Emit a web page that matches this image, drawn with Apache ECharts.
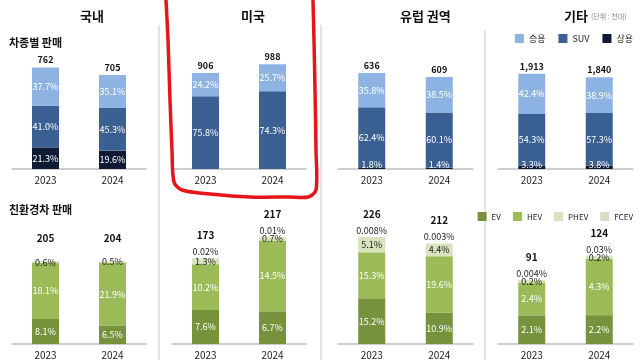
<!DOCTYPE html>
<html><head><meta charset="utf-8">
<script src="https://cdn.jsdelivr.net/npm/echarts@6/dist/echarts.min.js"></script>
<style>html,body{margin:0;padding:0;background:#fff}#c{width:640px;height:360px}</style>
</head><body><div id="c"></div>
<script>
// ---- data ----
const regions = ['국내', '미국', '유럽 권역', '기타'];
const years = ['2023', '2024'];
const salesTotal = [[762, 705], [906, 988], [636, 609], [1913, 1840]];
const passengerPct = [[37.7, 35.1], [24.2, 25.7], [35.8, 38.5], [42.4, 38.9]];
const suvPct = [[41.0, 45.3], [75.8, 74.3], [62.4, 60.1], [54.3, 57.3]];
const commercialPct = [[21.3, 19.6], [null, null], [1.8, 1.4], [3.3, 3.8]];
const ecoTotal = [[205, 204], [173, 217], [226, 212], [91, 124]];
const evPct = [[8.1, 6.5], [7.6, 6.7], [15.2, 10.9], [2.1, 2.2]];
const hevPct = [[18.1, 21.9], [10.2, 14.5], [15.3, 19.6], [2.4, 4.3]];
const phevPct = [[0.6, 0.5], [1.3, 0.7], [5.1, 4.4], [0.2, 0.2]];
const fcevPct = [[null, null], [0.02, 0.01], [0.008, 0.003], [0.004, 0.03]];
const topMax = [968, 1217, 854, 2590];
const botMax = [318, 261, 273, 181];

// ---- chart ----
const FONT = '"Noto Sans CJK KR", "Noto Sans", sans-serif';
const C = {pas: '#8DB3E2', suv: '#3A5F93', com: '#0F1B35', ev: '#76923C', hev: '#9BBB59', phev: '#D7E4BD', fcev: '#DDD9C4'};
const lefts = [12, 172, 338, 498];
const widths = [134, 134, 135, 135];
const fmtPct = v => v == null ? '' : (v >= 0.1 ? v.toFixed(1) : String(v)) + '%';
const fmtNum = v => v.toLocaleString('en-US');

const grid = [], xAxis = [], yAxis = [], series = [];
for (let row = 0; row < 2; row++) {
  for (let r = 0; r < 4; r++) {
    const gi = row * 4 + r;
    grid.push({left: lefts[r], width: widths[r], top: row === 0 ? 40 : 215, height: 129});
    xAxis.push({type: 'category', gridIndex: gi, data: years,
      axisLine: {lineStyle: {color: '#bfbfbf', width: 1.5}}, axisTick: {show: false},
      axisLabel: {color: '#222', fontSize: 10, fontFamily: FONT, margin: 6}});
    yAxis.push({type: 'value', gridIndex: gi, min: 0, max: row === 0 ? topMax[r] : botMax[r], show: false});
  }
}
function seg(name, gi, color, vals, pcts, labelColor, extraLabel) {
  return {name, type: 'bar', stack: 's' + gi, xAxisIndex: gi, yAxisIndex: gi, barWidth: 27,
    itemStyle: {color}, data: vals,
    label: Object.assign({show: true, position: 'inside', color: labelColor, fontSize: 9, fontFamily: FONT,
      formatter: p => fmtPct(pcts[p.dataIndex])}, extraLabel || {})};
}
for (let r = 0; r < 4; r++) {
  const tot = salesTotal[r];
  // top row
  const comVals = commercialPct[r].map((p, i) => p == null ? null : p * tot[i] / 100);
  const comSeries = seg('상용', r, C.com, comVals, commercialPct[r], '#fff');
  comSeries.data = comVals.map((v, i) => v == null ? null : (commercialPct[r][i] < 5 ?
    {value: v, label: {position: 'insideBottom', distance: 0}} : v));
  series.push(comSeries);
  series.push(seg('SUV', r, C.suv, suvPct[r].map((p, i) => p * tot[i] / 100), suvPct[r], '#fff'));
  series.push(seg('승용', r, C.pas, passengerPct[r].map((p, i) => p * tot[i] / 100), passengerPct[r], '#fff'));
  series.push({name: 'total', type: 'bar', stack: 's' + r, xAxisIndex: r, yAxisIndex: r, barWidth: 27,
    data: [0, 0], itemStyle: {color: 'transparent'},
    label: {show: true, position: 'top', distance: 3, color: '#111', fontSize: 9, fontWeight: 'bold', fontFamily: FONT,
      formatter: p => fmtNum(tot[p.dataIndex])}});
  // bottom row
  const gi = 4 + r;
  series.push(seg('EV', gi, C.ev, evPct[r].map((p, i) => p * tot[i] / 100), evPct[r], '#fff'));
  series.push(seg('HEV', gi, C.hev, hevPct[r].map((p, i) => p * tot[i] / 100), hevPct[r], '#fff'));
  series.push(seg('PHEV', gi, C.phev, phevPct[r].map((p, i) => p * tot[i] / 100), phevPct[r], '#222'));
  series.push(seg('FCEV', gi, C.fcev, fcevPct[r].map((p, i) => p == null ? null : p * tot[i] / 100), fcevPct[r], '#222',
    {position: 'top', distance: 2}));
  const eco = ecoTotal[r];
  series.push({name: 'total', type: 'bar', stack: 's' + gi, xAxisIndex: gi, yAxisIndex: gi, barWidth: 27,
    data: [0, 0], itemStyle: {color: 'transparent'},
    label: {show: true, position: 'top', distance: 18, color: '#111', fontSize: 10, fontWeight: 'bold', fontFamily: FONT,
      formatter: p => fmtNum(eco[p.dataIndex])}});
}

const titleX = [80, 241, 400, 564];
const graphic = [];
regions.forEach((t, i) => graphic.push({type: 'text', left: titleX[i], top: 10, style: {text: t, font: 'bold 13px ' + FONT, fill: '#111', textAlign: 'center'}}));
graphic.push({type: 'text', left: 591, top: 13, style: {text: '(단위 : 천대)', font: '7px ' + FONT, fill: '#888'}});
graphic.push({type: 'text', left: 9, top: 37, style: {text: '차종별 판매', font: 'bold 11px ' + FONT, fill: '#111'}});
graphic.push({type: 'text', left: 9, top: 204, style: {text: '친환경차 판매', font: 'bold 11px ' + FONT, fill: '#111'}});
[[159, 25], [321, 25], [485, 30]].forEach(([x, y0]) => graphic.push({type: 'line', shape: {x1: x, y1: y0, x2: x, y2: 360}, style: {stroke: '#c8c8c8', lineWidth: 1}}));
graphic.push({type: 'polyline', z: 100, shape: {smooth: 0.3, points: [[166, 0], [168, 40], [170, 100], [172, 150], [174, 182], [182, 190], [210, 194], [250, 197], [290, 197], [308, 197], [316, 190], [316, 150], [315, 90], [314, 40], [313, 0]]},
  style: {stroke: '#E8141A', lineWidth: 3.5, fill: null}});

const chart = echarts.init(document.getElementById('c'), null, {renderer: 'canvas'});
chart.setOption({
  animation: false,
  textStyle: {fontFamily: FONT},
  grid, xAxis, yAxis, series, graphic,
  legend: [
    {data: ['승용', 'SUV', '상용'], right: 2, top: 29, icon: 'rect', itemWidth: 9, itemHeight: 9, itemGap: 13,
      textStyle: {fontSize: 9, fontFamily: FONT, color: '#222'}},
    {data: ['EV', 'HEV', 'PHEV', 'FCEV'], right: 2, top: 207, icon: 'rect', itemWidth: 9, itemHeight: 9, itemGap: 12,
      textStyle: {fontSize: 8, fontFamily: FONT, color: '#222'}}
  ]
});
</script></body></html>
